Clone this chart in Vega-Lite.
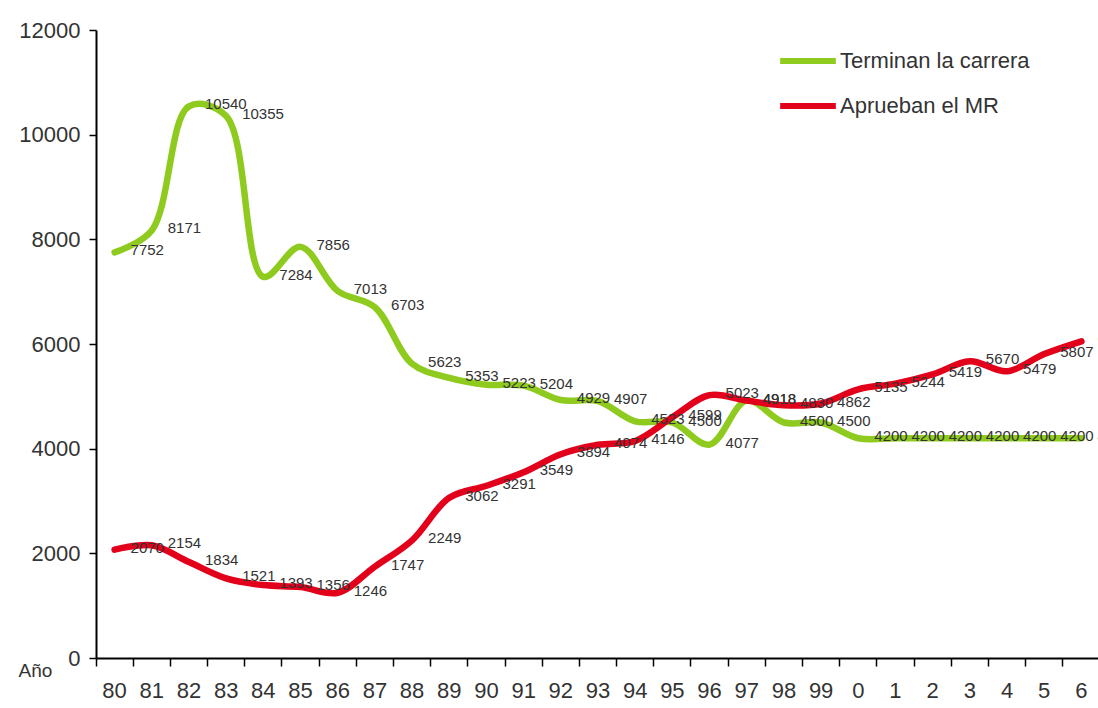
{
  "$schema": "https://vega.github.io/schema/vega-lite/v6.json",
  "autosize": {"type": "none"},
  "width": 1004,
  "height": 628,
  "padding": {"left": 96, "top": 30, "right": 0, "bottom": 50},
  "background": "white",
  "config": {
    "view": {"stroke": null},
    "font": "Liberation Sans",
    "axis": {"grid": false, "domainColor": "#000", "tickColor": "#000", "labelColor": "#333", "labelFont": "Liberation Sans", "domainWidth": 2, "tickWidth": 1.5}
  },
  "data": {
    "values": [
      {"year": "80", "serie": "Terminan la carrera", "value": 7752},
      {"year": "81", "serie": "Terminan la carrera", "value": 8171},
      {"year": "82", "serie": "Terminan la carrera", "value": 10540},
      {"year": "83", "serie": "Terminan la carrera", "value": 10355},
      {"year": "84", "serie": "Terminan la carrera", "value": 7284},
      {"year": "85", "serie": "Terminan la carrera", "value": 7856},
      {"year": "86", "serie": "Terminan la carrera", "value": 7013},
      {"year": "87", "serie": "Terminan la carrera", "value": 6703},
      {"year": "88", "serie": "Terminan la carrera", "value": 5623},
      {"year": "89", "serie": "Terminan la carrera", "value": 5353},
      {"year": "90", "serie": "Terminan la carrera", "value": 5223},
      {"year": "91", "serie": "Terminan la carrera", "value": 5204},
      {"year": "92", "serie": "Terminan la carrera", "value": 4929},
      {"year": "93", "serie": "Terminan la carrera", "value": 4907},
      {"year": "94", "serie": "Terminan la carrera", "value": 4523},
      {"year": "95", "serie": "Terminan la carrera", "value": 4500},
      {"year": "96", "serie": "Terminan la carrera", "value": 4077},
      {"year": "97", "serie": "Terminan la carrera", "value": 4918},
      {"year": "98", "serie": "Terminan la carrera", "value": 4500},
      {"year": "99", "serie": "Terminan la carrera", "value": 4500},
      {"year": "0", "serie": "Terminan la carrera", "value": 4200},
      {"year": "1", "serie": "Terminan la carrera", "value": 4200},
      {"year": "2", "serie": "Terminan la carrera", "value": 4200},
      {"year": "3", "serie": "Terminan la carrera", "value": 4200},
      {"year": "4", "serie": "Terminan la carrera", "value": 4200},
      {"year": "5", "serie": "Terminan la carrera", "value": 4200},
      {"year": "6", "serie": "Terminan la carrera", "value": 4200},
      {"year": "80", "serie": "Aprueban el MR", "value": 2070},
      {"year": "81", "serie": "Aprueban el MR", "value": 2154},
      {"year": "82", "serie": "Aprueban el MR", "value": 1834},
      {"year": "83", "serie": "Aprueban el MR", "value": 1521},
      {"year": "84", "serie": "Aprueban el MR", "value": 1393},
      {"year": "85", "serie": "Aprueban el MR", "value": 1356},
      {"year": "86", "serie": "Aprueban el MR", "value": 1246},
      {"year": "87", "serie": "Aprueban el MR", "value": 1747},
      {"year": "88", "serie": "Aprueban el MR", "value": 2249},
      {"year": "89", "serie": "Aprueban el MR", "value": 3062},
      {"year": "90", "serie": "Aprueban el MR", "value": 3291},
      {"year": "91", "serie": "Aprueban el MR", "value": 3549},
      {"year": "92", "serie": "Aprueban el MR", "value": 3894},
      {"year": "93", "serie": "Aprueban el MR", "value": 4074},
      {"year": "94", "serie": "Aprueban el MR", "value": 4146},
      {"year": "95", "serie": "Aprueban el MR", "value": 4599},
      {"year": "96", "serie": "Aprueban el MR", "value": 5023},
      {"year": "97", "serie": "Aprueban el MR", "value": 4918},
      {"year": "98", "serie": "Aprueban el MR", "value": 4830},
      {"year": "99", "serie": "Aprueban el MR", "value": 4862},
      {"year": "0", "serie": "Aprueban el MR", "value": 5135},
      {"year": "1", "serie": "Aprueban el MR", "value": 5244},
      {"year": "2", "serie": "Aprueban el MR", "value": 5419},
      {"year": "3", "serie": "Aprueban el MR", "value": 5670},
      {"year": "4", "serie": "Aprueban el MR", "value": 5479},
      {"year": "5", "serie": "Aprueban el MR", "value": 5807},
      {"year": "6", "serie": "Aprueban el MR", "value": 6051}
    ]
  },
  "encoding": {
    "x": {
      "field": "year", "type": "nominal",
      "scale": {"type": "band", "domain": ["80","81","82","83","84","85","86","87","88","89","90","91","92","93","94","95","96","97","98","99","0","1","2","3","4","5","6"], "paddingInner": 0, "paddingOuter": 0}
    },
    "y": {
      "field": "value", "type": "quantitative",
      "scale": {"domain": [0, 12000], "nice": false, "zero": true},
      "axis": {"values": [0, 2000, 4000, 6000, 8000, 10000, 12000], "format": "d", "title": null, "labelFontSize": 22, "tickSize": 7, "labelPadding": 9, "domainWidth": 2}
    }
  },
  "layer": [
    {
      "mark": {"type": "line", "interpolate": "catmull-rom", "strokeWidth": 6.5, "strokeCap": "round", "strokeJoin": "round"},
      "encoding": {
        "x": {"field": "year", "type": "nominal", "sort": null,
          "axis": {"orient": "bottom", "title": "Año", "titleX": -61, "titleY": 12, "titleAlign": "center", "titleBaseline": "middle", "titleFontSize": 19, "titleFontWeight": "normal", "titleColor": "#333", "labelAngle": 0, "labelFontSize": 22, "labelPadding": 22, "ticks": false, "domainWidth": 2}
        },
        "color": {
          "field": "serie", "type": "nominal",
          "scale": {"domain": ["Terminan la carrera", "Aprueban el MR"], "range": ["#8fca1e", "#e2001a"]},
          "legend": {"title": null, "orient": "none", "legendX": 681, "legendY": 0, "symbolType": "stroke", "symbolStrokeWidth": 6, "symbolSize": 3100, "labelFontSize": 22, "labelColor": "#333", "labelLimit": 400, "rowPadding": 2, "labelOffset": 1}
        }
      }
    },
    {
      "mark": {"type": "text", "align": "left", "baseline": "middle", "dx": 16, "dy": -2, "fontSize": 15, "color": "#333"},
      "encoding": {
        "x": {"field": "year", "type": "nominal", "sort": null,
          "axis": {"orient": "bottom", "title": null, "labels": false, "ticks": true, "bandPosition": 0, "tickSize": 8, "domain": false}
        },
        "text": {"field": "value", "type": "quantitative", "format": "d"},
        "detail": {"field": "serie"}
      }
    }
  ],
  "resolve": {"axis": {"x": "independent"}}
}
